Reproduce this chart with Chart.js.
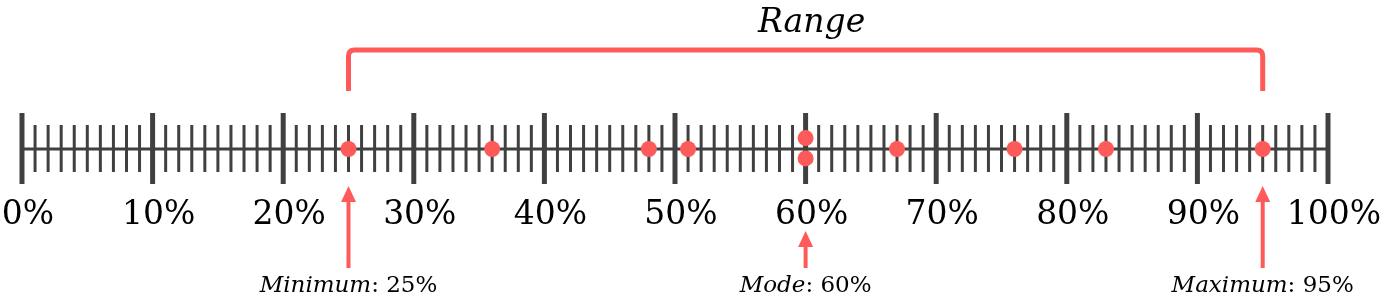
<!DOCTYPE html>
<html>
<head>
<meta charset="utf-8">
<script src="https://cdn.jsdelivr.net/npm/chart.js@4.4.1/dist/chart.umd.min.js"></script>
<style>
  html, body { margin: 0; padding: 0; background: #ffffff; }
  canvas { display: block; }
</style>
</head>
<body>
<canvas id="c" width="1386" height="297"></canvas>
<script>
// ---- data ----
const dataValues = [25, 36, 48, 51, 60, 60, 67, 76, 83, 95];
const stackLevels = [0, 0, 0, 0, 1.15, -1.0, 0, 0, 0, 0];
const majorTicks = [0, 10, 20, 30, 40, 50, 60, 70, 80, 90, 100];
const tickLabels = ['0%', '10%', '20%', '30%', '40%', '50%', '60%', '70%', '80%', '90%', '100%'];
const minorStep = 1;
const markerNames = ['Minimum', 'Mode', 'Maximum'];
const markerValues = [25, 60, 95];
const rangeBounds = [25, 95];
const rangeTitle = 'Range';

const RED = '#FF5A5A';
const DARK = '#404040';

const points = dataValues.map((v, i) => ({ x: v, y: stackLevels[i] }));

const numberLinePlugin = {
  id: 'numberLine',
  beforeDatasetsDraw(chart) {
    const ctx = chart.ctx;
    const xs = chart.scales.x, ys = chart.scales.y;
    const y0 = ys.getPixelForValue(0);
    ctx.save();
    // axis line
    ctx.strokeStyle = DARK;
    ctx.lineWidth = 3;
    ctx.beginPath();
    ctx.moveTo(xs.getPixelForValue(xs.min), y0);
    ctx.lineTo(xs.getPixelForValue(xs.max), y0);
    ctx.stroke();
    // minor ticks
    ctx.lineWidth = 3;
    for (let v = xs.min; v <= xs.max; v += minorStep) {
      if (majorTicks.includes(v)) continue;
      const px = xs.getPixelForValue(v);
      ctx.beginPath();
      ctx.moveTo(px, y0 - 24);
      ctx.lineTo(px, y0 + 23);
      ctx.stroke();
    }
    // major ticks
    ctx.lineWidth = 5;
    majorTicks.forEach(v => {
      const px = xs.getPixelForValue(v);
      ctx.beginPath();
      ctx.moveTo(px, y0 - 36);
      ctx.lineTo(px, y0 + 35);
      ctx.stroke();
    });
    // tick labels
    ctx.fillStyle = '#000';
    ctx.font = '33px "DejaVu Serif"';
    ctx.textAlign = 'center';
    ctx.textBaseline = 'alphabetic';
    majorTicks.forEach((v, i) => {
      ctx.fillText(tickLabels[i], xs.getPixelForValue(v) + 6, y0 + 75);
    });

    // range bracket
    const xa = xs.getPixelForValue(rangeBounds[0]);
    const xb = xs.getPixelForValue(rangeBounds[1]);
    const top = y0 - 99, legBottom = y0 - 58, r = 6;
    ctx.strokeStyle = RED;
    ctx.lineWidth = 5;
    ctx.lineJoin = 'round';
    ctx.beginPath();
    ctx.moveTo(xa, legBottom);
    ctx.lineTo(xa, top + r);
    ctx.quadraticCurveTo(xa, top, xa + r, top);
    ctx.lineTo(xb - r, top);
    ctx.quadraticCurveTo(xb, top, xb, top + r);
    ctx.lineTo(xb, legBottom);
    ctx.stroke();
    // title
    ctx.fillStyle = '#000';
    ctx.font = 'italic 33px "DejaVu Serif"';
    ctx.textAlign = 'center';
    ctx.fillText(rangeTitle, (xa + xb) / 2 + 6, y0 - 117);

    // markers: arrows + labels
    markerNames.forEach((name, i) => {
      const v = markerValues[i];
      const px = xs.getPixelForValue(v);
      const underLabel = majorTicks.includes(v);
      const tip = underLabel ? y0 + 82 : y0 + 37;
      const bottom = y0 + 119;
      ctx.fillStyle = RED;
      ctx.strokeStyle = RED;
      ctx.lineWidth = 4;
      ctx.beginPath();
      ctx.moveTo(px, tip + 12);
      ctx.lineTo(px, bottom);
      ctx.stroke();
      ctx.beginPath();
      ctx.moveTo(px, tip);
      ctx.lineTo(px - 7.5, tip + 16);
      ctx.lineTo(px + 7.5, tip + 16);
      ctx.closePath();
      ctx.fill();
      // label
      const valTxt = ': ' + v + '%';
      const fs = 23;
      ctx.font = 'italic ' + fs + 'px "DejaVu Serif"';
      const w1 = ctx.measureText(name).width;
      ctx.font = fs + 'px "DejaVu Serif"';
      const w2 = ctx.measureText(valTxt).width;
      const start = px - (w1 + w2) / 2;
      ctx.fillStyle = '#000';
      ctx.textAlign = 'left';
      ctx.font = 'italic ' + fs + 'px "DejaVu Serif"';
      ctx.fillText(name, start, y0 + 143);
      ctx.font = fs + 'px "DejaVu Serif"';
      ctx.fillText(valTxt, start + w1, y0 + 143);
    });
    ctx.restore();
  }
};

new Chart(document.getElementById('c'), {
  type: 'scatter',
  data: {
    datasets: [{
      data: points,
      backgroundColor: RED,
      borderWidth: 0,
      pointRadius: 8,
      pointHoverRadius: 8
    }]
  },
  options: {
    responsive: false,
    animation: false,
    devicePixelRatio: 1,
    layout: { padding: { left: 22, right: 58, top: 0, bottom: 0 } },
    plugins: { legend: { display: false }, tooltip: { enabled: false }, title: { display: false } },
    events: [],
    scales: {
      x: { type: 'linear', min: 0, max: 100, display: false },
      y: { type: 'linear', min: -14.8, max: 14.9, display: false }
    }
  },
  plugins: [numberLinePlugin]
});
</script>
</body>
</html>
